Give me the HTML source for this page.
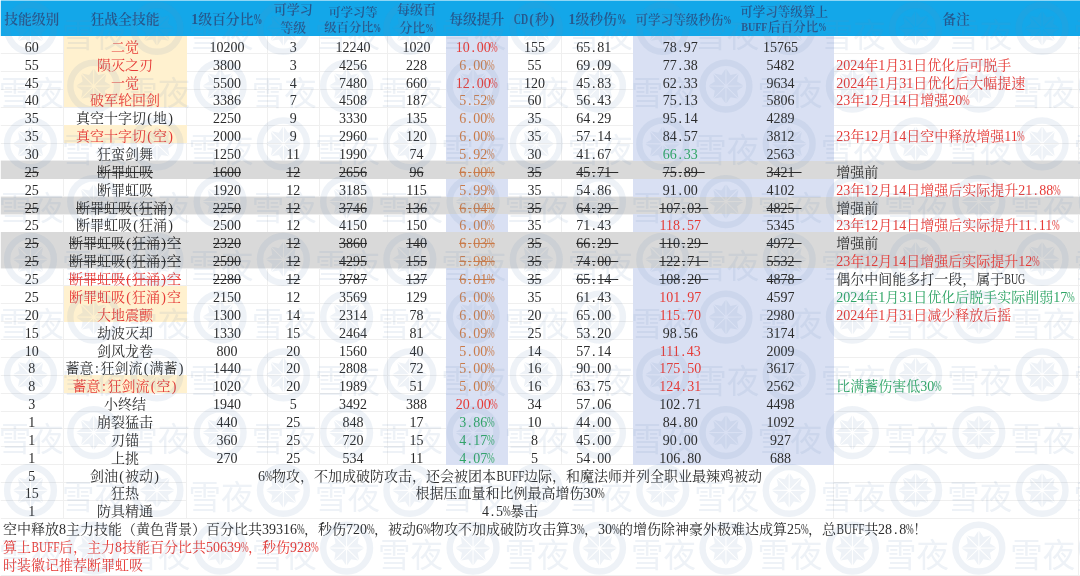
<!DOCTYPE html>
<html lang="zh-CN"><head><meta charset="utf-8"><title>狂战全技能</title>
<style>
html,body{margin:0;padding:0}
body{width:1080px;height:576px;overflow:hidden;background:#fff;position:relative;font-family:"Liberation Serif","Noto Serif CJK SC",serif;font-size:14px;color:#2b2b2b;font-weight:400;}
.r,.h{position:absolute;left:0;width:1080px;height:17.867px;line-height:17.867px;white-space:nowrap}
.r span,.h span{position:absolute;top:3.0px;height:17.867px;text-align:center;overflow:visible}
.c0{left:0px;width:63.5px}
.c1{left:63.5px;width:123px}
.c2{left:186.5px;width:81px}
.c3{left:267.5px;width:51.5px}
.c4{left:319px;width:68px}
.c5{left:387px;width:59px}
.c6{left:446px;width:61.5px}
.c7{left:507.5px;width:54px}
.c8{left:561.5px;width:71.5px}
.c9{left:633px;width:101.4px}
.c10{left:734.4px;width:99.3px}
.c11{left:833.7px;width:244.8px}
.r span.c11{text-align:left;padding-left:2.5px}
.h{top:0;height:35.8px;background:#13A7E9;color:#26578c;font-weight:600;font-size:13.8px}
.h span{top:0;height:35.8px;display:flex;align-items:center;justify-content:center;line-height:17.3px;padding-top:3px;box-sizing:border-box}
.bg{position:absolute}
.h b{display:block;font-weight:inherit;position:relative;top:.5px}
i{font-style:normal;display:inline-block;width:.5em;text-align:center}
i.p{width:auto;transform:scaleX(.66);margin:0 -.1665em}
i.b4{width:auto;transform:scaleX(.8);margin:0 -.25em}
i.b3{width:auto;transform:scaleX(.71);margin:0 -.305em}
i.b2{width:auto;transform:scaleX(.72);margin:0 -.195em}
.h .m1{font-size:13px;line-height:17.3px}.h .m2{font-size:12.3px;line-height:15.4px}.h .m3{font-size:12.55px;line-height:15.4px}.h .m2 b{top:1.6px}.h .m3 b{top:1.1px}.h .m1 b{top:-.7px}
.s span,.s1 span{text-decoration:line-through}
.s span i,.s1 span i{text-decoration:line-through}
.s span.c11,.s1 span.c0,.s1 span.c11,.s span.c11 i,.s1 span.c11 i{text-decoration:none}
.R{color:#E63A36}.G{color:#2FA565}.O{color:#C97B4A}
.m{left:186.5px;width:647.2px}
.n{left:0;width:1078px;text-align:left!important;padding-left:3px}
svg{position:absolute;left:0;top:0}
.h:before{content:"";position:absolute;left:0;top:0;width:1080px;height:1px;background:#8fd6f5}
</style></head>
<body>
<svg width="1080" height="576" viewBox="0 0 1080 576" shape-rendering="crispEdges">
<path d="M0 53.67 H1080 M0 71.53 H1080 M0 89.4 H1080 M0 107.27 H1080 M0 125.14 H1080 M0 143 H1080 M0 160.87 H1080 M0 178.74 H1080 M0 196.6 H1080 M0 214.47 H1080 M0 232.34 H1080 M0 250.2 H1080 M0 268.07 H1080 M0 285.94 H1080 M0 303.81 H1080 M0 321.67 H1080 M0 339.54 H1080 M0 357.41 H1080 M0 375.27 H1080 M0 393.14 H1080 M0 411.01 H1080 M0 428.87 H1080 M0 446.74 H1080 M0 464.61 H1080 M0 482.48 H186.5 M833.7 482.48 H1080 M0 500.34 H186.5 M833.7 500.34 H1080 M0 518.21 H1080 M0 575.5 H1080 M63.5 35.8 V518.21 M186.5 35.8 V518.21 M267.5 35.8 V464.61 M319 35.8 V464.61 M387 35.8 V464.61 M446 35.8 V464.61 M507.5 35.8 V464.61 M561.5 35.8 V464.61 M633 35.8 V464.61 M734.4 35.8 V464.61 M833.7 35.8 V518.21 M1078.5 35.8 V518.21 M1078.5 518.21 V576" stroke="#EFEFEF" stroke-width="1" fill="none"/>
</svg>
<div class="bg" style="left:446px;top:35.8px;width:61.5px;height:428.81px;background:#D9E0F3"></div>
<div class="bg" style="left:633px;top:35.8px;width:200.7px;height:428.81px;background:#D9E0F3"></div>
<div class="bg" style="left:63.5px;top:35.8px;width:123px;height:17.87px;background:#FFF1CF"></div>
<div class="bg" style="left:63.5px;top:53.67px;width:123px;height:17.87px;background:#FFF1CF"></div>
<div class="bg" style="left:63.5px;top:71.53px;width:123px;height:17.87px;background:#FFF1CF"></div>
<div class="bg" style="left:63.5px;top:89.4px;width:123px;height:17.87px;background:#FFF1CF"></div>
<div class="bg" style="left:63.5px;top:125.14px;width:123px;height:17.87px;background:#FFF1CF"></div>
<div class="bg" style="left:0px;top:160.87px;width:1080px;height:17.87px;background:#D9D9D9"></div>
<div class="bg" style="left:0px;top:196.6px;width:1080px;height:17.87px;background:#D9D9D9"></div>
<div class="bg" style="left:0px;top:232.34px;width:1080px;height:17.87px;background:#D9D9D9"></div>
<div class="bg" style="left:0px;top:250.2px;width:1080px;height:17.87px;background:#D9D9D9"></div>
<div class="bg" style="left:63.5px;top:285.94px;width:123px;height:17.87px;background:#FFF1CF"></div>
<div class="bg" style="left:63.5px;top:303.81px;width:123px;height:17.87px;background:#FFF1CF"></div>
<div class="bg" style="left:63.5px;top:375.27px;width:123px;height:17.87px;background:#FFF1CF"></div>
<div class="h"><span class="c0"><b>技能级别</b></span><span class="c1"><b>狂战全技能</b></span><span class="c2"><b>1级百分比<i class="p">%</i></b></span><span class="c3 m1"><b>可学习<br>等级</b></span><span class="c4 m2"><b>可学习等<br>级百分比<i class="p">%</i></b></span><span class="c5 m1"><b>每级百<br>分比<i class="p">%</i></b></span><span class="c6"><b>每级提升</b></span><span class="c7"><b><i class="b2">CD</i><i>(</i>秒<i>)</i></b></span><span class="c8"><b>1级秒伤<i class="p">%</i></b></span><span class="c9 m3"><b>可学习等级秒伤<i class="p">%</i></b></span><span class="c10 m3"><b>可学习等级算上<br><i class="b4">BUFF</i>后百分比<i class="p">%</i></b></span><span class="c11"><b>备注</b></span></div>
<div class="r" style="top:35.8px"><span class="c0">60</span><span class="c1 R">二觉</span><span class="c2">10200</span><span class="c3">3</span><span class="c4">12240</span><span class="c5">1020</span><span class="c6 R">10<i>.</i>00<i class="p">%</i></span><span class="c7">155</span><span class="c8">65<i>.</i>81&ensp;</span><span class="c9">78<i>.</i>97&ensp;</span><span class="c10">15765&ensp;</span></div>
<div class="r" style="top:53.67px"><span class="c0">55</span><span class="c1 R">陨灭之刃</span><span class="c2">3800</span><span class="c3">3</span><span class="c4">4256</span><span class="c5">228</span><span class="c6 O">6<i>.</i>00<i class="p">%</i></span><span class="c7">55</span><span class="c8">69<i>.</i>09&ensp;</span><span class="c9">77<i>.</i>38&ensp;</span><span class="c10">5482&ensp;</span><span class="c11 R">2024年1月31日优化后可脱手</span></div>
<div class="r" style="top:71.53px"><span class="c0">45</span><span class="c1 R">一觉</span><span class="c2">5500</span><span class="c3">4</span><span class="c4">7480</span><span class="c5">660</span><span class="c6 R">12<i>.</i>00<i class="p">%</i></span><span class="c7">120</span><span class="c8">45<i>.</i>83&ensp;</span><span class="c9">62<i>.</i>33&ensp;</span><span class="c10">9634&ensp;</span><span class="c11 R">2024年1月31日优化后大幅提速</span></div>
<div class="r" style="top:89.4px"><span class="c0">40</span><span class="c1 R">破军轮回剑</span><span class="c2">3386</span><span class="c3">7</span><span class="c4">4508</span><span class="c5">187</span><span class="c6 O">5<i>.</i>52<i class="p">%</i></span><span class="c7">60</span><span class="c8">56<i>.</i>43&ensp;</span><span class="c9">75<i>.</i>13&ensp;</span><span class="c10">5806&ensp;</span><span class="c11 R">23年12月14日增强20<i class="p">%</i></span></div>
<div class="r" style="top:107.27px"><span class="c0">35</span><span class="c1">真空十字切<i>(</i>地<i>)</i></span><span class="c2">2250</span><span class="c3">9</span><span class="c4">3330</span><span class="c5">135</span><span class="c6 O">6<i>.</i>00<i class="p">%</i></span><span class="c7">35</span><span class="c8">64<i>.</i>29&ensp;</span><span class="c9">95<i>.</i>14&ensp;</span><span class="c10">4289&ensp;</span></div>
<div class="r" style="top:125.14px"><span class="c0">35</span><span class="c1 R">真空十字切<i>(</i>空<i>)</i></span><span class="c2">2000</span><span class="c3">9</span><span class="c4">2960</span><span class="c5">120</span><span class="c6 O">6<i>.</i>00<i class="p">%</i></span><span class="c7">35</span><span class="c8">57<i>.</i>14&ensp;</span><span class="c9">84<i>.</i>57&ensp;</span><span class="c10">3812&ensp;</span><span class="c11 R">23年12月14日空中释放增强11<i class="p">%</i></span></div>
<div class="r" style="top:143px"><span class="c0">30</span><span class="c1">狂蛮剑舞</span><span class="c2">1250</span><span class="c3">11</span><span class="c4">1990</span><span class="c5">74</span><span class="c6 O">5<i>.</i>92<i class="p">%</i></span><span class="c7">30</span><span class="c8">41<i>.</i>67&ensp;</span><span class="c9 G">66<i>.</i>33&ensp;</span><span class="c10">2563&ensp;</span></div>
<div class="r s" style="top:160.87px"><span class="c0">25</span><span class="c1">断罪虹吸</span><span class="c2">1600</span><span class="c3">12</span><span class="c4">2656</span><span class="c5">96</span><span class="c6 O">6<i>.</i>00<i class="p">%</i></span><span class="c7">35</span><span class="c8">45<i>.</i>71&ensp;</span><span class="c9">75<i>.</i>89&ensp;</span><span class="c10">3421&ensp;</span><span class="c11">增强前</span></div>
<div class="r" style="top:178.74px"><span class="c0">25</span><span class="c1">断罪虹吸</span><span class="c2">1920</span><span class="c3">12</span><span class="c4">3185</span><span class="c5">115</span><span class="c6 O">5<i>.</i>99<i class="p">%</i></span><span class="c7">35</span><span class="c8">54<i>.</i>86&ensp;</span><span class="c9">91<i>.</i>00&ensp;</span><span class="c10">4102&ensp;</span><span class="c11 R">23年12月14日增强后实际提升21<i>.</i>88<i class="p">%</i></span></div>
<div class="r s" style="top:196.6px"><span class="c0">25</span><span class="c1">断罪虹吸<i>(</i>狂涌<i>)</i></span><span class="c2">2250</span><span class="c3">12</span><span class="c4">3746</span><span class="c5">136</span><span class="c6 O">6<i>.</i>04<i class="p">%</i></span><span class="c7">35</span><span class="c8">64<i>.</i>29&ensp;</span><span class="c9">107<i>.</i>03&ensp;</span><span class="c10">4825&ensp;</span><span class="c11">增强前</span></div>
<div class="r" style="top:214.47px"><span class="c0">25</span><span class="c1">断罪虹吸<i>(</i>狂涌<i>)</i></span><span class="c2">2500</span><span class="c3">12</span><span class="c4">4150</span><span class="c5">150</span><span class="c6 O">6<i>.</i>00<i class="p">%</i></span><span class="c7">35</span><span class="c8">71<i>.</i>43&ensp;</span><span class="c9 R">118<i>.</i>57&ensp;</span><span class="c10">5345&ensp;</span><span class="c11 R">23年12月14日增强后实际提升11<i>.</i>11<i class="p">%</i></span></div>
<div class="r s" style="top:232.34px"><span class="c0">25</span><span class="c1">断罪虹吸<i>(</i>狂涌<i>)</i>空</span><span class="c2">2320</span><span class="c3">12</span><span class="c4">3860</span><span class="c5">140</span><span class="c6 O">6<i>.</i>03<i class="p">%</i></span><span class="c7">35</span><span class="c8">66<i>.</i>29&ensp;</span><span class="c9">110<i>.</i>29&ensp;</span><span class="c10">4972&ensp;</span><span class="c11">增强前</span></div>
<div class="r s" style="top:250.2px"><span class="c0">25</span><span class="c1">断罪虹吸<i>(</i>狂涌<i>)</i>空</span><span class="c2">2590</span><span class="c3">12</span><span class="c4">4295</span><span class="c5">155</span><span class="c6 O">5<i>.</i>98<i class="p">%</i></span><span class="c7">35</span><span class="c8">74<i>.</i>00&ensp;</span><span class="c9">122<i>.</i>71&ensp;</span><span class="c10">5532&ensp;</span><span class="c11 R">23年12月14日增强后实际提升12<i class="p">%</i></span></div>
<div class="r s1" style="top:268.07px"><span class="c0">25</span><span class="c1 R">断罪虹吸<i>(</i>狂涌<i>)</i>空</span><span class="c2">2280</span><span class="c3">12</span><span class="c4">3787</span><span class="c5">137</span><span class="c6 O">6<i>.</i>01<i class="p">%</i></span><span class="c7">35</span><span class="c8">65<i>.</i>14&ensp;</span><span class="c9">108<i>.</i>20&ensp;</span><span class="c10">4878&ensp;</span><span class="c11">偶尔中间能多打一段，属于<i class="b3">BUG</i></span></div>
<div class="r" style="top:285.94px"><span class="c0">25</span><span class="c1 R">断罪虹吸<i>(</i>狂涌<i>)</i>空</span><span class="c2">2150</span><span class="c3">12</span><span class="c4">3569</span><span class="c5">129</span><span class="c6 O">6<i>.</i>00<i class="p">%</i></span><span class="c7">35</span><span class="c8">61<i>.</i>43&ensp;</span><span class="c9 R">101<i>.</i>97&ensp;</span><span class="c10">4597&ensp;</span><span class="c11 G">2024年1月31日优化后脱手实际削弱17<i class="p">%</i></span></div>
<div class="r" style="top:303.81px"><span class="c0">20</span><span class="c1 R">大地震颤</span><span class="c2">1300</span><span class="c3">14</span><span class="c4">2314</span><span class="c5">78</span><span class="c6 O">6<i>.</i>00<i class="p">%</i></span><span class="c7">20</span><span class="c8">65<i>.</i>00&ensp;</span><span class="c9 R">115<i>.</i>70&ensp;</span><span class="c10">2980&ensp;</span><span class="c11 R">2024年1月31日减少释放后摇</span></div>
<div class="r" style="top:321.67px"><span class="c0">15</span><span class="c1">劫波灭却</span><span class="c2">1330</span><span class="c3">15</span><span class="c4">2464</span><span class="c5">81</span><span class="c6 O">6<i>.</i>09<i class="p">%</i></span><span class="c7">25</span><span class="c8">53<i>.</i>20&ensp;</span><span class="c9">98<i>.</i>56&ensp;</span><span class="c10">3174&ensp;</span></div>
<div class="r" style="top:339.54px"><span class="c0">10</span><span class="c1">剑风龙卷</span><span class="c2">800</span><span class="c3">20</span><span class="c4">1560</span><span class="c5">40</span><span class="c6 O">5<i>.</i>00<i class="p">%</i></span><span class="c7">14</span><span class="c8">57<i>.</i>14&ensp;</span><span class="c9 R">111<i>.</i>43&ensp;</span><span class="c10">2009&ensp;</span></div>
<div class="r" style="top:357.41px"><span class="c0">8</span><span class="c1">蓄意<i>:</i>狂剑流<i>(</i>满蓄<i>)</i></span><span class="c2">1440</span><span class="c3">20</span><span class="c4">2808</span><span class="c5">72</span><span class="c6 O">5<i>.</i>00<i class="p">%</i></span><span class="c7">16</span><span class="c8">90<i>.</i>00&ensp;</span><span class="c9 R">175<i>.</i>50&ensp;</span><span class="c10">3617&ensp;</span></div>
<div class="r" style="top:375.27px"><span class="c0">8</span><span class="c1 R">蓄意<i>:</i>狂剑流<i>(</i>空<i>)</i></span><span class="c2">1020</span><span class="c3">20</span><span class="c4">1989</span><span class="c5">51</span><span class="c6 O">5<i>.</i>00<i class="p">%</i></span><span class="c7">16</span><span class="c8">63<i>.</i>75&ensp;</span><span class="c9 R">124<i>.</i>31&ensp;</span><span class="c10">2562&ensp;</span><span class="c11 G">比满蓄伤害低30<i class="p">%</i></span></div>
<div class="r" style="top:393.14px"><span class="c0">3</span><span class="c1">小终结</span><span class="c2">1940</span><span class="c3">5</span><span class="c4">3492</span><span class="c5">388</span><span class="c6 R">20<i>.</i>00<i class="p">%</i></span><span class="c7">34</span><span class="c8">57<i>.</i>06&ensp;</span><span class="c9">102<i>.</i>71&ensp;</span><span class="c10">4498&ensp;</span></div>
<div class="r" style="top:411.01px"><span class="c0">1</span><span class="c1">崩裂猛击</span><span class="c2">440</span><span class="c3">25</span><span class="c4">848</span><span class="c5">17</span><span class="c6 G">3<i>.</i>86<i class="p">%</i></span><span class="c7">10</span><span class="c8">44<i>.</i>00&ensp;</span><span class="c9">84<i>.</i>80&ensp;</span><span class="c10">1092&ensp;</span></div>
<div class="r" style="top:428.87px"><span class="c0">1</span><span class="c1">刃锚</span><span class="c2">360</span><span class="c3">25</span><span class="c4">720</span><span class="c5">15</span><span class="c6 G">4<i>.</i>17<i class="p">%</i></span><span class="c7">8</span><span class="c8">45<i>.</i>00&ensp;</span><span class="c9">90<i>.</i>00&ensp;</span><span class="c10">927&ensp;</span></div>
<div class="r" style="top:446.74px"><span class="c0">1</span><span class="c1">上挑</span><span class="c2">270</span><span class="c3">25</span><span class="c4">534</span><span class="c5">11</span><span class="c6 G">4<i>.</i>07<i class="p">%</i></span><span class="c7">5</span><span class="c8">54<i>.</i>00&ensp;</span><span class="c9">106<i>.</i>80&ensp;</span><span class="c10">688&ensp;</span></div>
<div class="r" style="top:464.61px"><span class="c0">5</span><span class="c1">剑油<i>(</i>被动<i>)</i></span><span class="m">6<i class="p">%</i>物攻，不加成破防攻击，还会被团本<i class="b4">BUFF</i>边际，和魔法师并列全职业最辣鸡被动</span></div>
<div class="r" style="top:482.48px"><span class="c0">15</span><span class="c1">狂热</span><span class="m">根据压血量和比例最高增伤30<i class="p">%</i></span></div>
<div class="r" style="top:500.34px"><span class="c0">1</span><span class="c1">防具精通</span><span class="m">4<i>.</i>5<i class="p">%</i>暴击</span></div>
<div class="r" style="top:518.21px"><span class="n">空中释放8主力技能（黄色背景）百分比共39316<i class="p">%</i>，秒伤720<i class="p">%</i>，被动6<i class="p">%</i>物攻不加成破防攻击算3<i class="p">%</i>，30<i class="p">%</i>的增伤除神豪外极难达成算25<i class="p">%</i>，总<i class="b4">BUFF</i>共28<i>.</i>8<i class="p">%</i>！</span></div>
<div class="r" style="top:536.08px"><span class="n R">算上<i class="b4">BUFF</i>后，主力8技能百分比共50639<i class="p">%</i>，秒伤928<i class="p">%</i></span></div>
<div class="r" style="top:553.94px"><span class="n R">时装徽记推荐断罪虹吸</span></div>
<div class="bg" style="left:0;top:0;width:1px;height:576px;background:#fff;opacity:.8"></div>
<svg width="1080" height="576" viewBox="0 0 1080 576" style="pointer-events:none">
<defs>
<g id="lg"><circle r="23.4" fill="none" stroke-width="6.4"/><path transform="rotate(22.5)" d="M0 -1.4 L6.12 -16.08 L0 -12 L-6.12 -16.08 Z" stroke="none"/><path transform="rotate(67.5)" d="M0 -1.4 L6.12 -16.08 L0 -12 L-6.12 -16.08 Z" stroke="none"/><path transform="rotate(112.5)" d="M0 -1.4 L6.12 -16.08 L0 -12 L-6.12 -16.08 Z" stroke="none"/><path transform="rotate(157.5)" d="M0 -1.4 L6.12 -16.08 L0 -12 L-6.12 -16.08 Z" stroke="none"/><path transform="rotate(202.5)" d="M0 -1.4 L6.12 -16.08 L0 -12 L-6.12 -16.08 Z" stroke="none"/><path transform="rotate(247.5)" d="M0 -1.4 L6.12 -16.08 L0 -12 L-6.12 -16.08 Z" stroke="none"/><path transform="rotate(292.5)" d="M0 -1.4 L6.12 -16.08 L0 -12 L-6.12 -16.08 Z" stroke="none"/><path transform="rotate(337.5)" d="M0 -1.4 L6.12 -16.08 L0 -12 L-6.12 -16.08 Z" stroke="none"/><text x="31.5" y="18.6" font-size="32.5" font-family="&quot;Liberation Sans&quot;,&quot;Noto Sans CJK SC&quot;,sans-serif" stroke="none" letter-spacing="0">雪夜</text></g>
</defs>
<g fill="#6A8FB8" stroke="#6A8FB8" opacity="0.115">
<use href="#lg" x="-95.95" y="28.35"/><use href="#lg" x="30.5" y="28.35"/><use href="#lg" x="156.95" y="28.35"/><use href="#lg" x="283.4" y="28.35"/><use href="#lg" x="409.85" y="28.35"/><use href="#lg" x="536.3" y="28.35"/><use href="#lg" x="662.75" y="28.35"/><use href="#lg" x="789.2" y="28.35"/><use href="#lg" x="915.65" y="28.35"/><use href="#lg" x="1042.1" y="28.35"/><use href="#lg" x="-32.75" y="86.1"/><use href="#lg" x="93.7" y="86.1"/><use href="#lg" x="220.15" y="86.1"/><use href="#lg" x="346.6" y="86.1"/><use href="#lg" x="473.05" y="86.1"/><use href="#lg" x="599.5" y="86.1"/><use href="#lg" x="725.95" y="86.1"/><use href="#lg" x="852.4" y="86.1"/><use href="#lg" x="978.85" y="86.1"/><use href="#lg" x="1105.3" y="86.1"/><use href="#lg" x="-95.95" y="143.85"/><use href="#lg" x="30.5" y="143.85"/><use href="#lg" x="156.95" y="143.85"/><use href="#lg" x="283.4" y="143.85"/><use href="#lg" x="409.85" y="143.85"/><use href="#lg" x="536.3" y="143.85"/><use href="#lg" x="662.75" y="143.85"/><use href="#lg" x="789.2" y="143.85"/><use href="#lg" x="915.65" y="143.85"/><use href="#lg" x="1042.1" y="143.85"/><use href="#lg" x="-32.75" y="201.6"/><use href="#lg" x="93.7" y="201.6"/><use href="#lg" x="220.15" y="201.6"/><use href="#lg" x="346.6" y="201.6"/><use href="#lg" x="473.05" y="201.6"/><use href="#lg" x="599.5" y="201.6"/><use href="#lg" x="725.95" y="201.6"/><use href="#lg" x="852.4" y="201.6"/><use href="#lg" x="978.85" y="201.6"/><use href="#lg" x="1105.3" y="201.6"/><use href="#lg" x="-95.95" y="259.35"/><use href="#lg" x="30.5" y="259.35"/><use href="#lg" x="156.95" y="259.35"/><use href="#lg" x="283.4" y="259.35"/><use href="#lg" x="409.85" y="259.35"/><use href="#lg" x="536.3" y="259.35"/><use href="#lg" x="662.75" y="259.35"/><use href="#lg" x="789.2" y="259.35"/><use href="#lg" x="915.65" y="259.35"/><use href="#lg" x="1042.1" y="259.35"/><use href="#lg" x="-32.75" y="317.1"/><use href="#lg" x="93.7" y="317.1"/><use href="#lg" x="220.15" y="317.1"/><use href="#lg" x="346.6" y="317.1"/><use href="#lg" x="473.05" y="317.1"/><use href="#lg" x="599.5" y="317.1"/><use href="#lg" x="725.95" y="317.1"/><use href="#lg" x="852.4" y="317.1"/><use href="#lg" x="978.85" y="317.1"/><use href="#lg" x="1105.3" y="317.1"/><use href="#lg" x="-95.95" y="374.85"/><use href="#lg" x="30.5" y="374.85"/><use href="#lg" x="156.95" y="374.85"/><use href="#lg" x="283.4" y="374.85"/><use href="#lg" x="409.85" y="374.85"/><use href="#lg" x="536.3" y="374.85"/><use href="#lg" x="662.75" y="374.85"/><use href="#lg" x="789.2" y="374.85"/><use href="#lg" x="915.65" y="374.85"/><use href="#lg" x="1042.1" y="374.85"/><use href="#lg" x="-32.75" y="432.6"/><use href="#lg" x="93.7" y="432.6"/><use href="#lg" x="220.15" y="432.6"/><use href="#lg" x="346.6" y="432.6"/><use href="#lg" x="473.05" y="432.6"/><use href="#lg" x="599.5" y="432.6"/><use href="#lg" x="725.95" y="432.6"/><use href="#lg" x="852.4" y="432.6"/><use href="#lg" x="978.85" y="432.6"/><use href="#lg" x="1105.3" y="432.6"/><use href="#lg" x="-95.95" y="490.35"/><use href="#lg" x="30.5" y="490.35"/><use href="#lg" x="156.95" y="490.35"/><use href="#lg" x="283.4" y="490.35"/><use href="#lg" x="409.85" y="490.35"/><use href="#lg" x="536.3" y="490.35"/><use href="#lg" x="662.75" y="490.35"/><use href="#lg" x="789.2" y="490.35"/><use href="#lg" x="915.65" y="490.35"/><use href="#lg" x="1042.1" y="490.35"/><use href="#lg" x="-32.75" y="548.1"/><use href="#lg" x="93.7" y="548.1"/><use href="#lg" x="220.15" y="548.1"/><use href="#lg" x="346.6" y="548.1"/><use href="#lg" x="473.05" y="548.1"/><use href="#lg" x="599.5" y="548.1"/><use href="#lg" x="725.95" y="548.1"/><use href="#lg" x="852.4" y="548.1"/><use href="#lg" x="978.85" y="548.1"/><use href="#lg" x="1105.3" y="548.1"/><use href="#lg" x="-95.95" y="605.85"/><use href="#lg" x="30.5" y="605.85"/><use href="#lg" x="156.95" y="605.85"/><use href="#lg" x="283.4" y="605.85"/><use href="#lg" x="409.85" y="605.85"/><use href="#lg" x="536.3" y="605.85"/><use href="#lg" x="662.75" y="605.85"/><use href="#lg" x="789.2" y="605.85"/><use href="#lg" x="915.65" y="605.85"/><use href="#lg" x="1042.1" y="605.85"/>
</g>
</svg>
</body></html>
